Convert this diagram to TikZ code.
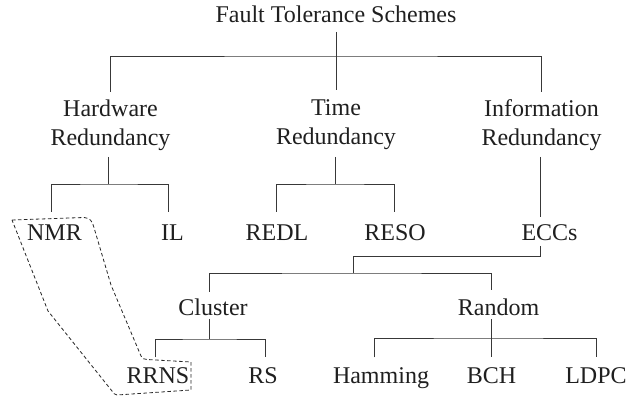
\documentclass[tikz,border=0pt]{standalone}
\usepackage{fontspec}
\setmainfont{Liberation Serif}
\begin{document}
\begin{tikzpicture}[x=1pt,y=1pt,
  lbl/.style={font=\fontsize{24}{29}\selectfont, inner sep=0pt, outer sep=0pt, text=black!88, text height=16pt, text depth=5pt, anchor=base},
  lbltwo/.style={font=\fontsize{24}{29}\selectfont, inner sep=0pt, outer sep=0pt, text=black!88, align=center, anchor=north},
  conn/.style={draw=black!78, line width=0.9pt},
  grp/.style={draw=black!85, line width=0.8pt, dash pattern=on 3.5pt off 2.5pt, line join=round}]
\useasboundingbox (0,0) rectangle (626,398);

% nodes
\node[lbl] (root) at (336,375) {Fault Tolerance Schemes};
\node[lbltwo] (hw) at (110.5,298.5) {Hardware\\Redundancy};
\node[lbltwo] (time) at (336,298.5) {Time\\Redundancy};
\node[lbltwo] (ir) at (541.5,298.5) {Information\\Redundancy};

\node[lbl] (nmr) at (54.5,157) {NMR};
\node[lbl] (il) at (172.5,157) {IL};
\node[lbl] (redl) at (277,157) {REDL};
\node[lbl] (reso) at (395,157) {RESO};
\node[lbl] (eccs) at (549.5,157) {ECCs};

\node[lbl] (cluster) at (213,82) {Cluster};
\node[lbl] (random) at (498.5,82.5) {Random};

\node[lbl] (rrns) at (158,14) {RRNS};
\node[lbl] (rs) at (263,14) {RS};
\node[lbl] (hamming) at (381,14) {Hamming};
\node[lbl] (bch) at (491.5,14) {BCH};
\node[lbl] (ldpc) at (596,14) {LDPC};

% junction coordinates
\coordinate (topj) at (336,342);
\coordinate (eccj) at (353,125);
\coordinate (rj) at (491.5,60);

% connectors
\draw[conn] ([yshift=-4pt]root.south) -- ([yshift=9.5pt]time.north);
\draw[conn] ([xshift=-0.5pt,yshift=7.5pt]hw.north) |- (topj) -| ([xshift=-0.5pt,yshift=7.5pt]ir.north);

\draw[conn] ([xshift=-2.5pt,yshift=-57.5pt]hw.north) -- ++(0,-27pt) coordinate (hwj);
\draw[conn] ([xshift=-3.5pt,yshift=13pt]nmr.north) |- (hwj) -| ([xshift=-4.5pt,yshift=13pt]il.north);

\draw[conn] ([xshift=-1pt,yshift=-57.5pt]time.north) -- ++(0,-27pt) coordinate (tj);
\draw[conn] ([xshift=-1pt,yshift=13pt]redl.north) |- (tj) -| ([xshift=-0.5pt,yshift=13pt]reso.north);

\draw[conn] ([xshift=-1pt,yshift=-57.5pt]ir.north) -- ([xshift=-9pt,yshift=8pt]eccs.north);

\draw[conn] ([xshift=-9pt]eccs.south) -- ++(0,-10pt) -| (eccj);
\draw[conn] ([xshift=-4pt,yshift=8pt]cluster.north) |- (eccj) -| ([xshift=-7pt,yshift=9pt]random.north);

\draw[conn] ([xshift=-4pt,yshift=2pt]cluster.south) -- ++(0,-20pt) coordinate (cj);
\draw[conn] ([xshift=-3pt,yshift=10.5pt]rrns.north) |- (cj) -| ([xshift=2pt,yshift=10.5pt]rs.north);

\draw[conn] ([xshift=-7pt,yshift=1pt]random.south) -- ([yshift=10.5pt]bch.north);
\draw[conn] ([xshift=-7pt,yshift=10.5pt]hamming.north) |- (rj) -| ([yshift=10.5pt]ldpc.north);

% dashed grouping outline
\draw[grp] (12,178) -- (84,180.5) .. controls (90,180) and (92,177) .. (93.5,172)
  -- (111,113) -- (141,42) .. controls (142,39.5) and (144,38.5) .. (147,38.5)
  -- (191,36) -- (191,8) -- (117,3) .. controls (115,3) and (113,5) .. (112,7)
  -- (48,87) -- cycle;
\end{tikzpicture}
\end{document}
